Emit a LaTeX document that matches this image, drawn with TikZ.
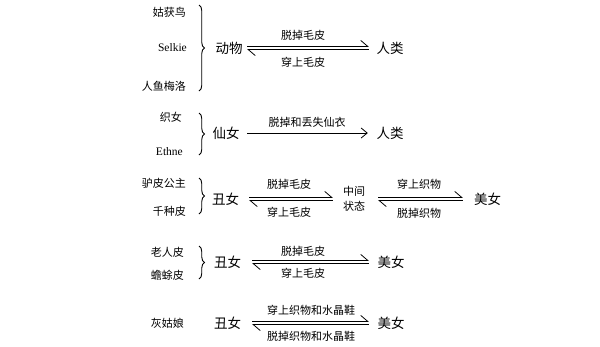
\documentclass[tikz,border=0pt]{standalone}
\usepackage{fontspec}
\setmainfont{Liberation Serif}
\newfontfamily\cjk{Noto Sans CJK SC}
\usetikzlibrary{arrows.meta, decorations.pathreplacing}

\begin{document}
\begin{tikzpicture}[x=1pt, y=-1pt,
		tale/.style={anchor=east, inner sep=1pt, font=\cjk\fontsize{11}{13}\selectfont},
		latin/.style={anchor=east, inner sep=1pt, font=\fontsize{11.5}{13}\selectfont},
		form/.style={inner sep=2pt, font=\cjk\fontsize{13.5}{15}\selectfont},
		deed/.style={inner sep=1pt, font=\cjk\fontsize{11}{13}\selectfont},
		brc/.style={decorate, decoration={brace, amplitude=5.5pt}, line width=0.9pt},
		harp/.style={line width=0.8pt, -{Straight Barb[left, length=7pt, width=12pt]}},
		single/.style={line width=0.8pt, -{Straight Barb[length=6pt, width=10pt]}}]
	\useasboundingbox (0, 0) rectangle (600, 346);
	% Animal brides: animal <-> human.
	\node[tale] (gu) at (187, 12) {姑获鸟};
	\node[latin] (selkie) at (188, 48) {Selkie};
	\node[tale] (merrow) at (187, 86) {人鱼梅洛};
	\draw[brc] (199, 5) -- (199, 91);
	\node[form] (animal) at (229, 48) {动物};
	\node[form] (human1) at (390, 48) {人类};
	\draw[harp, shorten <=2.5pt, shorten >=5.5pt] ([yshift=1.6pt]animal.east) -- ([yshift=1.6pt]human1.west);
	\draw[harp, shorten <=5.5pt, shorten >=2.5pt] ([yshift=-1.6pt]human1.west) -- ([yshift=-1.6pt]animal.east);
	\node[deed] (off1) at (303, 35) {脱掉毛皮};
	\node[deed] (on1) at (303, 62) {穿上毛皮};
	% Swan maidens: fairy -> human.
	\node[tale] (weaver) at (183, 117) {织女};
	\node[latin] (ethne) at (184, 152) {Ethne};
	\draw[brc] (199, 113) -- (199, 155);
	\node[form] (fairy) at (226, 133) {仙女};
	\node[form] (human2) at (390, 133) {人类};
	\draw[single, shorten <=5.5pt, shorten >=6.5pt] (fairy.east) -- (human2.west);
	\node[deed] (lose2) at (307, 122) {脱掉和丢失仙衣};
	% Donkeyskin: ugly <-> middle state <-> beauty.
	\node[tale] (donkey) at (187, 183) {驴皮公主};
	\node[tale] (allfur) at (187, 211) {千种皮};
	\draw[brc] (199, 178) -- (199, 214);
	\node[form] (ugly3) at (225.5, 199) {丑女};
	\node[deed, inner sep=2pt, align=center, font=\cjk\fontsize{11}{15}\selectfont] (mid3) at (354, 199) {中间\\状态};
	\node[form] (fair3) at (487.5, 199) {美女};
	\draw[harp, shorten <=8pt, shorten >=8pt] ([yshift=1.6pt]ugly3.east) -- ([yshift=1.6pt]mid3.west);
	\draw[harp, shorten <=8pt, shorten >=8pt] ([yshift=-1.6pt]mid3.west) -- ([yshift=-1.6pt]ugly3.east);
	\draw[harp, shorten <=11pt, shorten >=9pt] ([yshift=1.6pt]mid3.east) -- ([yshift=1.6pt]fair3.west);
	\draw[harp, shorten <=9pt, shorten >=11pt] ([yshift=-1.6pt]fair3.west) -- ([yshift=-1.6pt]mid3.east);
	\node[deed] (off3) at (289, 184) {脱掉毛皮};
	\node[deed] (on3) at (289, 212) {穿上毛皮};
	\node[deed] (dress3) at (419, 184) {穿上织物};
	\node[deed] (undress3) at (419, 213) {脱掉织物};
	% Old woman's skin: ugly <-> beauty.
	\node[tale] (oldskin) at (185, 252) {老人皮};
	\node[tale] (toadskin) at (185, 275) {蟾蜍皮};
	\draw[brc] (199, 246) -- (199, 279);
	\node[form] (ugly4) at (227.5, 262) {丑女};
	\node[form] (fair4) at (391, 262) {美女};
	\draw[harp, shorten <=9pt, shorten >=6.5pt] ([yshift=1.6pt]ugly4.east) -- ([yshift=1.6pt]fair4.west);
	\draw[harp, shorten <=6.5pt, shorten >=9pt] ([yshift=-1.6pt]fair4.west) -- ([yshift=-1.6pt]ugly4.east);
	\node[deed] (off4) at (303, 251) {脱掉毛皮};
	\node[deed] (on4) at (303, 273) {穿上毛皮};
	% Cinderella: ugly <-> beauty.
	\node[tale] (cinder) at (185, 323) {灰姑娘};
	\node[form] (ugly5) at (227.5, 323) {丑女};
	\node[form] (fair5) at (391, 323) {美女};
	\draw[harp, shorten <=9pt, shorten >=6.5pt] ([yshift=1.6pt]ugly5.east) -- ([yshift=1.6pt]fair5.west);
	\draw[harp, shorten <=6.5pt, shorten >=9pt] ([yshift=-1.6pt]fair5.west) -- ([yshift=-1.6pt]ugly5.east);
	\node[deed] (dress5) at (311, 310) {穿上织物和水晶鞋};
	\node[deed] (undress5) at (311, 336) {脱掉织物和水晶鞋};
\end{tikzpicture}
\end{document}
